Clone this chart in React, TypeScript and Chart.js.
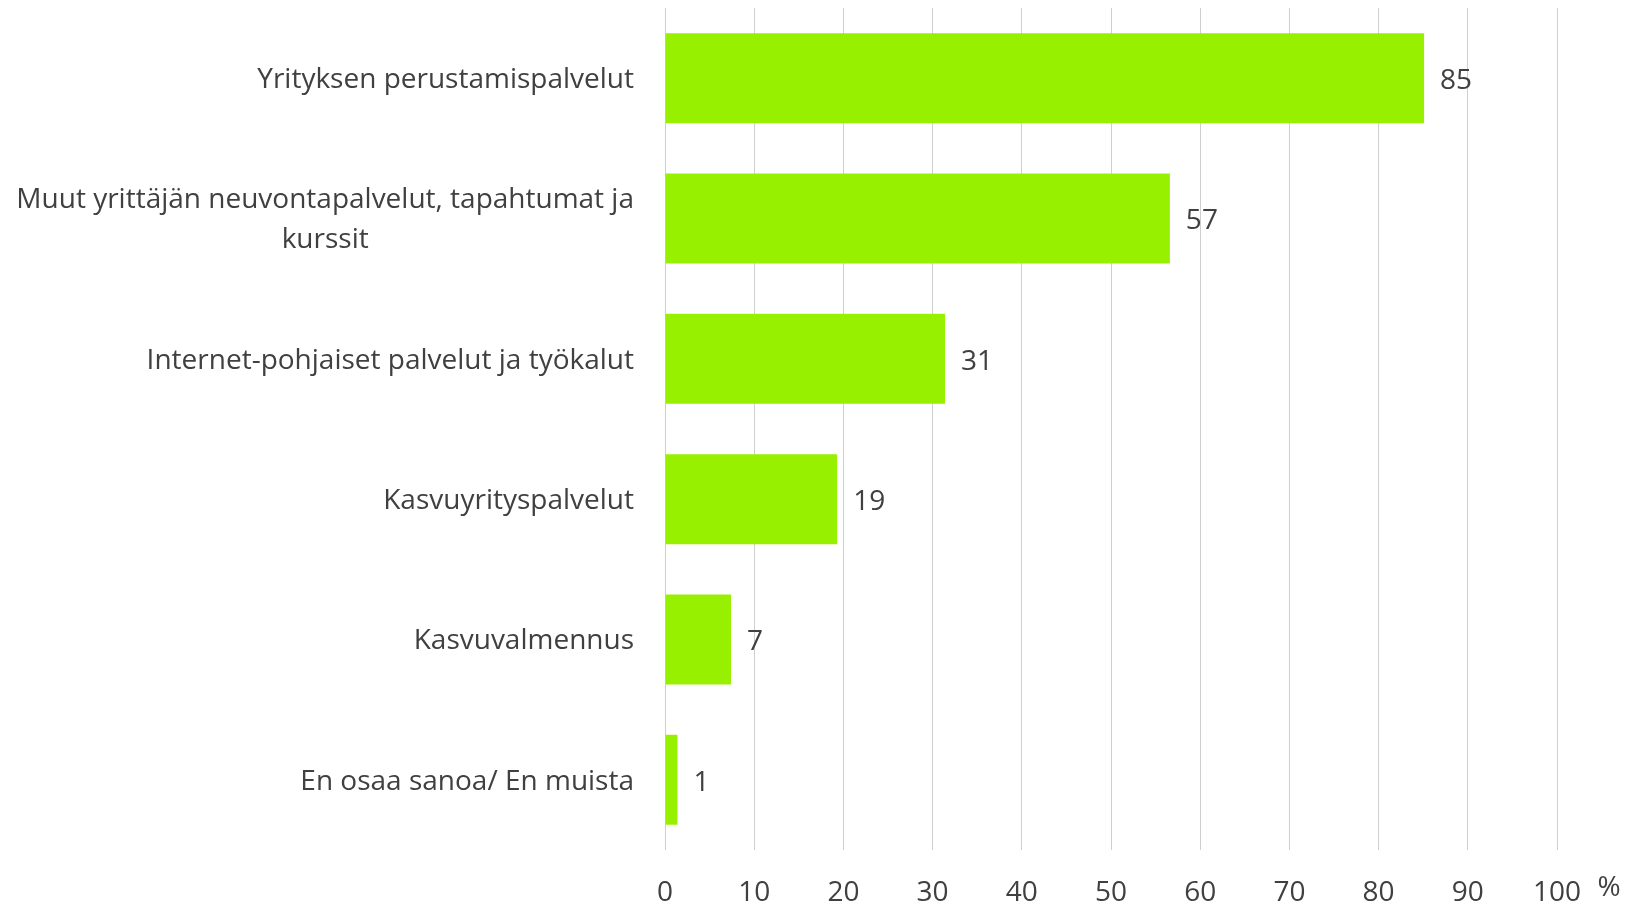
import React, { useEffect, useRef } from "react";
import { Chart, registerables } from "chart.js";

Chart.register(...registerables);

const categories: (string | string[])[] = [
  "Yrityksen perustamispalvelut",
  ["Muut yrittäjän neuvontapalvelut, tapahtumat ja", "kurssit"],
  "Internet-pohjaiset palvelut ja työkalut",
  "Kasvuyrityspalvelut",
  "Kasvuvalmennus",
  "En osaa sanoa/ En muista",
];
const values: number[] = [85.1, 56.6, 31.4, 19.3, 7.4, 1.4];
const valueLabels: string[] = ["85", "57", "31", "19", "7", "1"];
const xTicks: number[] = [0, 10, 20, 30, 40, 50, 60, 70, 80, 90, 100];
const axisUnit = "%";

const FONT = "'Open Sans', sans-serif";
const TEXT = "#404040";
const BAR = "#97F000";
const GRID = "#CFCFCF";

export default function App() {
  const ref = useRef<HTMLCanvasElement | null>(null);

  useEffect(() => {
    if (!ref.current) return;
    const labelPlugin = {
      id: "customLabels",
      afterDraw(chart: any) {
        const ctx = chart.ctx;
        const yScale = chart.scales.y;
        const xScale = chart.scales.x;
        ctx.save();
        ctx.font = `28px ${FONT}`;
        ctx.fillStyle = TEXT;
        ctx.textBaseline = "middle";
        // category labels
        const rightEdge = chart.chartArea.left - 31;
        categories.forEach((c, i) => {
          const y = yScale.getPixelForTick(i) + 2;
          const lines = Array.isArray(c) ? c : [c];
          const lh = 40;
          const widths = lines.map((l) => ctx.measureText(l).width);
          const maxW = Math.max(...widths);
          const center = rightEdge - maxW / 2;
          lines.forEach((l, k) => {
            const ly = y + (k - (lines.length - 1) / 2) * lh;
            ctx.textAlign = lines.length > 1 ? "center" : "right";
            ctx.fillText(l, lines.length > 1 ? center : rightEdge, ly);
          });
        });
        // value labels
        const meta = chart.getDatasetMeta(0);
        ctx.textAlign = "left";
        meta.data.forEach((bar: any, i: number) => {
          ctx.fillText(valueLabels[i], bar.x + 16, bar.y + 3);
        });
        // unit
        ctx.textAlign = "center";
        ctx.fillText(axisUnit, xScale.right + 52, chart.chartArea.bottom + 38);
        ctx.restore();
      },
    };

    const chart = new Chart(ref.current, {
      type: "bar",
      data: {
        labels: categories as any,
        datasets: [
          {
            data: values,
            backgroundColor: BAR,
            borderWidth: 0,
            barPercentage: 0.641,
            categoryPercentage: 1,
          },
        ],
      },
      options: {
        indexAxis: "y",
        animation: false,
        responsive: true,
        maintainAspectRatio: false,
        layout: { padding: { top: 8, right: 80, bottom: 0, left: 0 } },
        plugins: {
          legend: { display: false },
          tooltip: { enabled: false },
        },
        scales: {
          x: {
            min: 0,
            max: 100,
            afterBuildTicks: (scale: any) => {
              scale.ticks = xTicks.map((v) => ({ value: v }));
            },
            grid: { color: GRID, lineWidth: 1, drawTicks: false },
            border: { display: false },
            ticks: {
              font: { family: FONT, size: 28 },
              color: TEXT,
              padding: 26,
              maxRotation: 0,
            },
            afterFit: (scale: any) => {
              scale.height = 56;
            },
          },
          y: {
            grid: { display: false },
            border: { display: false },
            ticks: { display: false },
            afterFit: (scale: any) => {
              scale.width = 665;
            },
          },
        },
      },
      plugins: [labelPlugin],
    });
    return () => chart.destroy();
  }, []);

  return (
    <div style={{ position: "fixed", left: 0, top: 0, width: 1637, height: 906, background: "#fff" }}>
      <canvas ref={ref} />
    </div>
  );
}
